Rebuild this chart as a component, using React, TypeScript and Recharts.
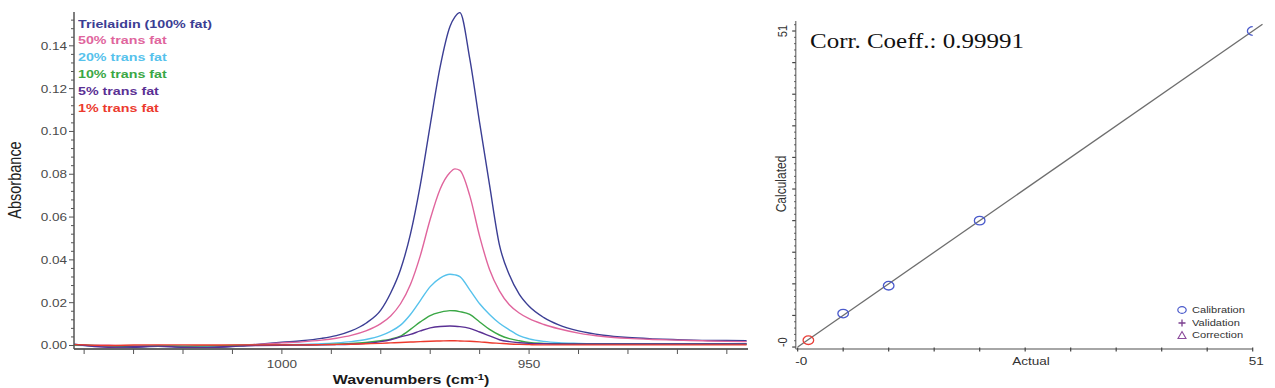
import React from 'react'
import {
  LineChart, Line, XAxis, YAxis, Legend,
  ScatterChart, Scatter, ReferenceLine, Customized,
} from 'recharts'

// the scanned figure is stretched sideways, so text gets widened to match
const SX = 1.23
const SANS = 'Arial, "Liberation Sans", Helvetica, sans-serif'
const SERIF = '"Times New Roman", "Liberation Serif", serif'

// ---- IR spectra (left) ----
const wavenumbers = [
  1042, 1035, 1030, 1025, 1020, 1015, 1010, 1005, 1000, 996, 992, 989, 986, 983, 980, 978, 976, 974, 972, 970, 968,
  966, 965, 964, 962, 960, 958, 956, 954, 952, 950, 947, 944, 940, 935, 930, 925, 920, 915, 910, 906,
]
const trielaidin = [
  0.0005, -0.0006, -0.0008, -0.0004, -0.0009, -0.001, -0.0005, 0.0005,
  0.0015, 0.0022, 0.0033, 0.0046, 0.0068, 0.0104, 0.0165, 0.0245, 0.0355, 0.052, 0.075, 0.103, 0.13,
  0.149, 0.1535, 0.1555, 0.134, 0.104, 0.075, 0.047, 0.033, 0.024, 0.0183,
  0.013, 0.0096, 0.0068, 0.0048, 0.0037, 0.0031, 0.0027, 0.0024, 0.0023, 0.0022,
]
const trans50 = [
  0.0002, 0.0001, -0.0003, 0.0, -0.0004, -0.0002, 0.0, 0.0005,
  0.0012, 0.0017, 0.0025, 0.0034, 0.0047, 0.0068, 0.0102, 0.0138, 0.0195, 0.0285, 0.042, 0.059, 0.073,
  0.0808, 0.0825, 0.0818, 0.07, 0.051, 0.0355, 0.0255, 0.019, 0.0152, 0.0125,
  0.0098, 0.0078, 0.0058, 0.0042, 0.0033, 0.0028, 0.0025, 0.0022, 0.0019, 0.0018,
]
const trans20 = [
  0.0001, -0.0003, -0.0002, -0.0001, -0.0003, -0.0004, -0.0001, 0.0001,
  0.0003, 0.0005, 0.0008, 0.0012, 0.0018, 0.0028, 0.0046, 0.0066, 0.0095, 0.0145, 0.021, 0.0275, 0.0315,
  0.0333, 0.033, 0.0322, 0.026, 0.0195, 0.0145, 0.0104, 0.0073, 0.0046, 0.0031,
  0.0019, 0.0013, 0.001, 0.0008, 0.0008, 0.0008, 0.0008, 0.0008, 0.0008, 0.0008,
]
const trans10 = [
  0.0002, -0.0002, -0.0004, -0.0002, -0.0003, -0.0002, 0.0, 0.0001,
  0.0002, 0.0003, 0.0004, 0.0006, 0.0009, 0.0014, 0.0022, 0.003, 0.0044, 0.0075, 0.011, 0.014, 0.0155,
  0.0163, 0.0162, 0.0158, 0.0145, 0.011, 0.0075, 0.0049, 0.0032, 0.0022, 0.0014,
  0.001, 0.0008, 0.0007, 0.0007, 0.0007, 0.0007, 0.0007, 0.0007, 0.0007, 0.0007,
]
const trans5 = [
  0.0006, -0.0008, -0.0006, -0.0003, -0.0008, -0.0009, -0.0004, 0.0,
  0.0001, 0.0002, 0.0003, 0.0004, 0.0006, 0.001, 0.0018, 0.0027, 0.004, 0.0052, 0.0068, 0.0082, 0.0089,
  0.0091, 0.009, 0.0088, 0.008, 0.0063, 0.0045, 0.0027, 0.0018, 0.0013, 0.001,
  0.0008, 0.0007, 0.0007, 0.0007, 0.0007, 0.0007, 0.0007, 0.0007, 0.0007, 0.0007,
]
const trans1 = [
  0.0004, 0.0, 0.0002, 0.0003, 0.0003, 0.0002, 0.0003, 0.0003,
  0.0003, 0.0003, 0.0004, 0.0005, 0.0006, 0.0008, 0.001, 0.0012, 0.0014, 0.0016, 0.0018, 0.002, 0.0021,
  0.0022, 0.0022, 0.0021, 0.002, 0.0017, 0.0013, 0.001, 0.0007, 0.0005, 0.0004,
  0.0003, 0.0003, 0.0003, 0.0003, 0.0003, 0.0003, 0.0003, 0.0003, 0.0003, 0.0003,
]

const specNames = ['Trielaidin (100% fat)', '50% trans fat', '20% trans fat', '10% trans fat', '5% trans fat', '1% trans fat']
const specColors = ['#3b3e94', '#e0659d', '#56c2ec', '#3aa745', '#5a3094', '#ec3a2e']
const specSeries = [trielaidin, trans50, trans20, trans10, trans5, trans1]

const absTicks = [
  0, 0.004, 0.008, 0.012, 0.016, 0.02, 0.024, 0.028, 0.032, 0.036, 0.04, 0.044, 0.048, 0.052, 0.056, 0.06,
  0.064, 0.068, 0.072, 0.076, 0.08, 0.084, 0.088, 0.092, 0.096, 0.1, 0.104, 0.108, 0.112, 0.116, 0.12,
  0.124, 0.128, 0.132, 0.136, 0.14, 0.144, 0.148, 0.152,
]
const absMajor = [0, 0.02, 0.04, 0.06, 0.08, 0.1, 0.12, 0.14]
const absLabels = ['0.00', '0.02', '0.04', '0.06', '0.08', '0.10', '0.12', '0.14']
const waveTicks = [1040, 1030, 1020, 1010, 1000, 990, 980, 970, 960, 950, 940, 930, 920, 910]
const waveLabelled = [1000, 950]

const spectra = wavenumbers.map((w, i) => {
  const row: Record<string, number> = { w }
  specSeries.forEach((s, k) => { row['s' + k] = s[i] })
  return row
})

// ---- calibration plot (right) ----
const calActual = [5.1, 10.2, 20.4, 51.0]
const calPredicted = [5.4, 9.9, 20.4, 51.0]
const selActual = [1.2]
const selPredicted = [1.1]
const fitActual = [0, 52.1]
const fitPredicted = [0, 52.1]
const corrCoeff = '0.99991'
const calMajor = [0, 5.1, 10.2, 15.3, 20.4, 25.5, 30.6, 35.7, 40.8, 45.9, 51]
const calMinor = [
  1.02, 2.04, 3.06, 4.08, 6.12, 7.14, 8.16, 9.18, 11.22, 12.24, 13.26, 14.28, 16.32, 17.34, 18.36, 19.38,
  21.42, 22.44, 23.46, 24.48, 26.52, 27.54, 28.56, 29.58, 31.62, 32.64, 33.66, 34.68, 36.72, 37.74, 38.76, 39.78,
  41.82, 42.84, 43.86, 44.88, 46.92, 47.94, 48.96, 49.98, 52.02,
]
const calEndLabels: Record<string, string> = { '0': '-0', '51': '51' }
const calLegend = ['Calibration', 'Validation', 'Correction']

const calPoints = calActual.map((x, i) => ({ x, y: calPredicted[i] }))
const selPoints = selActual.map((x, i) => ({ x, y: selPredicted[i] }))

const near = (a: number, b: number) => Math.abs(a - b) < 1e-6

function AbsTick({ x, y, payload }: any) {
  const i = absMajor.findIndex(v => near(v, payload.value))
  return (
    <g>
      <line x1={x} x2={x - (i >= 0 ? 5 : 3)} y1={y} y2={y} stroke="#555" />
      {i >= 0 && (
        <text transform={`translate(${x - 7},${y}) scale(${SX},1)`} textAnchor="end" dy="0.36em"
          fontFamily={SANS} fontSize={11} fill="#4a4a4a">{absLabels[i]}</text>
      )}
    </g>
  )
}

function WaveTick({ x, y, payload }: any) {
  const lab = waveLabelled.includes(payload.value)
  return (
    <g>
      <line x1={x} x2={x} y1={y} y2={y + 5} stroke="#555" />
      {lab && (
        <text transform={`translate(${x},${y + 18.5}) scale(${SX},1)`} textAnchor="middle"
          fontFamily={SANS} fontSize={11} fill="#4a4a4a">{payload.value}</text>
      )}
    </g>
  )
}

const WaveTitle = () => (
  <text transform={`translate(411,384) scale(${SX},1)`} textAnchor="middle" fontFamily={SANS}
    fontWeight="bold" fontSize={13} fill="#1a1a1a">
    Wavenumbers (cm<tspan dy={-4} fontSize={9}>-1</tspan><tspan dy={4}>)</tspan>
  </text>
)

const AbsTitle = () => (
  <text transform={`translate(20.5,180) scale(${SX},1) rotate(-90)`} textAnchor="middle"
    fontFamily={SANS} fontSize={14.5} fill="#222">Absorbance</text>
)

const SpecLegend = () => (
  <div style={{
    fontFamily: SANS, fontWeight: 'bold', fontSize: 11.6, lineHeight: '16.8px', whiteSpace: 'nowrap',
    transform: `scaleX(${SX})`, transformOrigin: 'left top',
  }}>
    {specNames.map((n, i) => <div key={n} style={{ color: specColors[i] }}>{n}</div>)}
  </div>
)

function CalYTick({ x, y, payload }: any) {
  const major = calMajor.some(v => near(v, payload.value))
  const lab = calEndLabels[String(payload.value)]
  return (
    <g>
      <line x1={x} x2={x - (major ? 3.5 : 1.5)} y1={y} y2={y} stroke="#444" strokeWidth={major ? 1.2 : 1} />
      {lab && (
        <text transform={`translate(${x - 9},${y}) scale(${SX},1) rotate(-90)`}
          textAnchor={payload.value === 0 ? 'start' : 'middle'}
          fontFamily={SANS} fontSize={11} fill="#333">{lab}</text>
      )}
    </g>
  )
}

function CalXTick({ x, y, payload }: any) {
  const lab = calEndLabels[String(payload.value)]
  return (
    <g>
      <line x1={x} x2={x} y1={y - 1.5} y2={y + 2.5} stroke="#444" strokeWidth={1.2} />
      {lab && (
        <text transform={`translate(${x + 3.5},${y + 16}) scale(${SX},1)`} textAnchor="middle"
          fontFamily={SANS} fontSize={11} fill="#333">{lab}</text>
      )}
    </g>
  )
}

const ActualTitle = () => (
  <text transform={`translate(271,365) scale(${SX},1)`} textAnchor="middle" fontFamily={SANS}
    fontSize={11} fill="#333">Actual</text>
)

const CalcTitle = () => (
  <text transform={`translate(26,184) scale(${SX},1) rotate(-90)`} textAnchor="middle" fontFamily={SANS}
    fontSize={12} fill="#333">Calculated</text>
)

const CorrText = () => (
  <text transform="translate(50,48) scale(1.25,1)" fontFamily={SERIF} fontSize={20} fill="#111">
    Corr. Coeff.: {corrCoeff}
  </text>
)

const ring = (stroke: string) => (p: any) => (
  <ellipse cx={p.cx} cy={p.cy} rx={5.3} ry={4.3} fill="none" stroke={stroke} strokeWidth={1.3} />
)

const CalLegend = () => (
  <div style={{ fontFamily: SANS, fontSize: 9, color: '#333' }}>
    {calLegend.map((n, i) => (
      <div key={n} style={{ display: 'flex', alignItems: 'center', height: 12.5 }}>
        <svg width={10} height={10} style={{ flex: 'none' }}>
          {i === 0 && <ellipse cx={5} cy={5} rx={4.2} ry={3.4} fill="none" stroke="#4a5acb" strokeWidth={1.2} />}
          {i === 1 && <path d="M5 1.5V8.5M1.5 5H8.5" stroke="#7b3f8f" strokeWidth={1.3} />}
          {i === 2 && <polygon points="5,1.5 9,8.5 1,8.5" fill="none" stroke="#8b4a9b" strokeWidth={1.1} />}
        </svg>
        <span style={{ marginLeft: 5, display: 'inline-block', transform: `scaleX(${SX})`, transformOrigin: 'left center', whiteSpace: 'nowrap' }}>{n}</span>
      </div>
    ))}
  </div>
)

export default function App() {
  return (
    <div style={{ position: 'absolute', left: 0, top: 0, width: 1275, height: 388, background: '#fff', overflow: 'hidden' }}>
      <div style={{ position: 'absolute', left: 0, top: 0 }}>
        <LineChart width={760} height={388} data={spectra} margin={{ top: 12, right: 12, bottom: 0, left: 0 }}>
          <XAxis dataKey="w" type="number" domain={[905.72, 1042.05]} reversed allowDataOverflow
            ticks={waveTicks} interval={0} tick={<WaveTick />} tickLine={false} tickSize={0} tickMargin={0}
            axisLine={{ stroke: '#666', strokeWidth: 2 }} height={39} label={<WaveTitle />} />
          <YAxis type="number" domain={[-0.00164, 0.1558]} allowDataOverflow
            ticks={absTicks} interval={0} tick={<AbsTick />} tickLine={false} tickSize={0} tickMargin={0}
            axisLine={{ stroke: '#555', strokeWidth: 1.5 }} width={74} label={<AbsTitle />} />
          {specNames.map((n, k) => (
            <Line key={n} name={n} dataKey={'s' + k} type="monotone" stroke={specColors[k]} strokeWidth={1.4}
              dot={false} activeDot={false} isAnimationActive={false} />
          ))}
          <Legend layout="vertical" align="center" verticalAlign="middle"
            wrapperStyle={{ left: 78, top: 15.6, width: 'auto', height: 'auto' }} content={() => <SpecLegend />} />
        </LineChart>
      </div>
      <div style={{ position: 'absolute', left: 760, top: 0 }}>
        <ScatterChart width={515} height={388} margin={{ top: 21.1, right: 22.3, bottom: 0, left: 0 }}>
          <XAxis dataKey="x" type="number" domain={[-0.22, 51]} allowDataOverflow
            ticks={calMajor} interval={0} tick={<CalXTick />} tickLine={false} tickSize={0} tickMargin={0}
            axisLine={{ stroke: '#888', strokeWidth: 1.5 }} height={39.1} label={<ActualTitle />} />
          <YAxis dataKey="y" type="number" domain={[-0.3, 52.6]} allowDataOverflow
            ticks={[...calMajor, ...calMinor]} interval={0} tick={<CalYTick />} tickLine={false} tickSize={0} tickMargin={0}
            axisLine={{ stroke: '#888', strokeWidth: 1.5 }} width={35.7} label={<CalcTitle />} />
          <ReferenceLine segment={[{ x: fitActual[0], y: fitPredicted[0] }, { x: fitActual[1], y: fitPredicted[1] }]}
            stroke="#6e6e6e" strokeWidth={1.3} ifOverflow="visible" />
          <Scatter name="Calibration" data={calPoints} shape={ring('#4a5acb')} isAnimationActive={false} />
          <Scatter name="Selected" data={selPoints} shape={ring('#e8403a')} isAnimationActive={false} />
          <Customized component={CorrText} />
          <Legend layout="vertical" align="center" verticalAlign="middle"
            wrapperStyle={{ left: 416.7, top: 303.8, width: 'auto', height: 'auto' }} content={() => <CalLegend />} />
        </ScatterChart>
      </div>
    </div>
  )
}
